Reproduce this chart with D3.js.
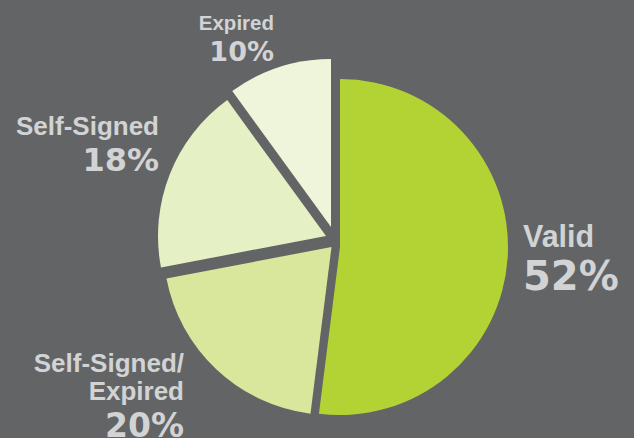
<!DOCTYPE html>
<html>
<head>
<meta charset="utf-8">
<script src="https://cdn.jsdelivr.net/npm/d3@7"></script>
<style>
  html, body { margin: 0; padding: 0; background: #636466; }
  svg { display: block; }
</style>
</head>
<body>
<svg id="drawing_region"></svg>
<script>
const categories = ["Valid", "Self-Signed/Expired", "Self-Signed", "Expired"];
const values = [52, 20, 18, 10];
const colors = ["#b3d335", "#d9e79c", "#e6f0c5", "#eff5da"];

class PieChart {

    constructor( config, data ) {
        this.config = {
            parent: config.parent,
            width: config.width || 634,
            height: config.height || 438,
            radius: config.radius || 168,
            cx: config.cx,
            cy: config.cy,
            shift: config.shift
        }
        this.data = data;
        this.init();
    }

    init() {
        let self = this;

        self.root = d3.select( self.config.parent )
            .attr('width', self.config.width)
            .attr('height', self.config.height);

        self.root.append('rect')
            .attr('width', self.config.width)
            .attr('height', self.config.height)
            .attr('fill', '#636466');

        self.svg = self.root.append('g')
            .attr('transform', `translate(${self.config.cx}, ${self.config.cy})`);

        self.pie = d3.pie()
            .sort(null)
            .value( d => d.value );

        self.arc = d3.arc()
            .innerRadius(0)
            .outerRadius(self.config.radius);
    }

    update() {
        let self = this;
        self.render();
    }

    render() {
        let self = this;

        // slices are pulled apart a little, each by its own amount
        self.svg.selectAll('.slice')
            .data( self.pie(self.data) )
            .enter()
            .append('path')
            .attr('class', 'slice')
            .attr('transform', (d, i) => `translate(${self.config.shift[i][0]}, ${self.config.shift[i][1]})`)
            .attr('d', self.arc)
            .attr('fill', d => d.data.color );

        const labels = [
            {lines: ["Valid"], x: 523, y: 247, anchor: 'start', fs: 30.5, pfs: 40, gap: 43},
            {lines: ["Self-Signed/", "Expired"], x: 184, y: 372, anchor: 'end', fs: 26, pfs: 33, gap: 37},
            {lines: ["Self-Signed"], x: 159, y: 135, anchor: 'end', fs: 26, pfs: 32, gap: 36},
            {lines: ["Expired"], x: 274, y: 30, anchor: 'end', fs: 20.5, pfs: 27, gap: 31}
        ];

        labels.forEach( (l, i) => {
            const t = self.root.append('text')
                .attr('text-anchor', l.anchor)
                .attr('fill', '#d1d3d4')
                .style('font-weight', 'bold');
            l.lines.forEach( (s, j) => {
                t.append('tspan')
                    .attr('x', l.x)
                    .attr('y', l.y + j * 28)
                    .style('font-family', '"Liberation Sans", Arial, sans-serif')
                    .style('font-size', l.fs + 'px')
                    .text(s);
            });
            t.append('tspan')
                .attr('x', l.x)
                .attr('y', l.y + (l.lines.length - 1) * 28 + l.gap)
                .style('font-family', '"DejaVu Sans", sans-serif')
                .style('font-size', l.pfs + 'px')
                .text( self.data[i].value + '%' );
        });
    }
}

const data = categories.map( (c, i) => ({ label: c, value: values[i], color: colors[i] }) );

const config = {
    parent: '#drawing_region',
    width: 634,
    height: 438,
    radius: 168,
    cx: 333,
    cy: 243,
    shift: [[7, 4], [-1.5, 4], [-7, -7], [-2, -16]]
};

const pieChart = new PieChart( config, data );
pieChart.update();
</script>
</body>
</html>
